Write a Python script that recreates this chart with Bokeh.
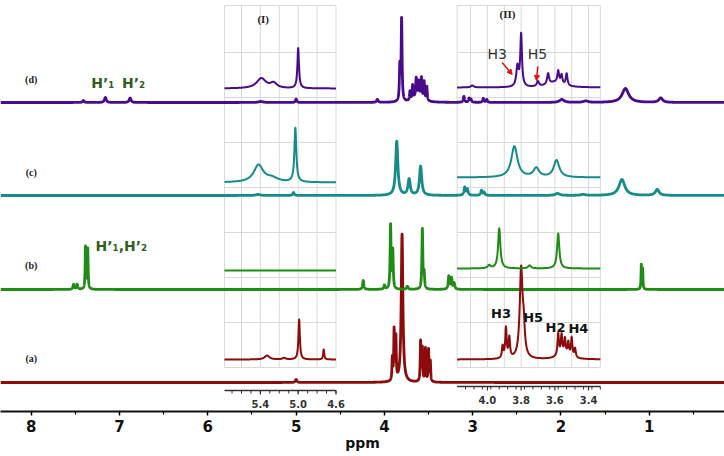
import numpy as np
from bokeh.plotting import figure
from bokeh.models import Range1d, FixedTicker, Arrow, NormalHead
from bokeh.core.properties import value
from bokeh.embed import file_html
from bokeh.resources import INLINE

# ---------------- data ----------------
spectrum_names = ["(a)", "(b)", "(c)", "(d)"]
main_ticks = [1, 2, 3, 4, 5, 6, 7, 8]
main_minor = [0.5, 1.5, 2.5, 3.5, 4.5, 5.5, 6.5, 7.5]
inset1_labels = [5.4, 5.0, 4.6]
inset2_labels = [4.0, 3.8, 3.6, 3.4]

# peak lists: (ppm, intensity, half width in ppm)
peaks_a_main = [(5.00, 3, 0.01), (3.91, 22, 0.005), (3.89, 50, 0.005), (3.87, 42, 0.005),
                (3.80, 148, 0.011), (3.59, 40, 0.005), (3.57, 33, 0.005), (3.535, 33, 0.005),
                (3.50, 32, 0.005), (3.48, 20, 0.005)]
peaks_b_main = [(7.52, 5, 0.008), (7.48, 5, 0.008), (7.385, 42, 0.005), (7.36, 40, 0.005),
                (4.24, 9, 0.008), (4.00, 4, 0.008), (3.93, 64, 0.006), (3.905, 38, 0.006),
                (3.74, 3, 0.01), (3.57, 60, 0.006), (3.55, 15, 0.006), (3.27, 13, 0.008),
                (3.24, 11, 0.008), (3.21, 6, 0.008), (1.09, 24, 0.004), (1.075, 20, 0.004)]
peaks_c_main = [(5.43, 1, 0.03), (5.03, 3, 0.01), (3.86, 54, 0.015), (3.72, 16, 0.015),
                (3.59, 29, 0.015), (3.09, 8, 0.01), (3.06, 6, 0.01), (2.90, 5, 0.01),
                (2.87, 3, 0.01), (2.04, 2, 0.03), (1.75, 1, 0.03), (1.31, 16, 0.04),
                (0.91, 6, 0.025)]
peaks_d_main = [(7.41, 2, 0.01), (7.16, 5, 0.012), (6.88, 4.5, 0.012), (5.40, 1, 0.03),
                (5.00, 3.5, 0.008), (4.08, 3, 0.01), (3.825, 34, 0.006), (3.805, 82, 0.006),
                (3.71, 9, 0.006), (3.68, 14, 0.006), (3.64, 18, 0.006), (3.61, 14, 0.006),
                (3.58, 20, 0.006), (3.55, 18, 0.006), (3.52, 14, 0.006), (3.62, 7, 0.05),
                (3.10, 6, 0.008), (3.04, 4, 0.008), (3.02, 3, 0.008), (2.88, 4, 0.008),
                (2.84, 3, 0.008), (1.99, 3, 0.03), (1.72, 1.5, 0.03), (1.27, 14, 0.045),
                (0.87, 4.5, 0.025)]

# inset (I): 5.78 - 4.60 ppm
peaks_a_i1 = [(5.33, 4, 0.03), (5.15, 1.5, 0.02), (4.99, 40, 0.009), (4.73, 10, 0.007)]
peaks_b_i1 = []
peaks_c_i1 = [(5.42, 17, 0.06), (5.28, 4, 0.08), (5.03, 54, 0.012)]
peaks_d_i1 = [(5.39, 10, 0.06), (5.26, 5, 0.04), (5.00, 40, 0.01)]

# inset (II): 4.18 - 3.33 ppm
peaks_a_i2 = [(3.91, 12, 0.005), (3.89, 30, 0.005), (3.87, 20, 0.005), (3.80, 88, 0.01),
              (3.785, 25, 0.008), (3.58, 22, 0.005), (3.56, 19, 0.005), (3.54, 15, 0.005),
              (3.52, 13, 0.005), (3.50, 19, 0.005), (3.48, 9, 0.005), (3.55, 5, 0.04)]
peaks_b_i2 = [(3.99, 3, 0.01), (3.93, 40, 0.008), (3.75, 3, 0.01), (3.58, 35, 0.008)]
peaks_c_i2 = [(3.84, 31, 0.022), (3.71, 9, 0.02), (3.59, 17, 0.02)]
peaks_d_i2 = [(4.09, 2, 0.01), (3.822, 20, 0.008), (3.80, 52, 0.006), (3.70, 5, 0.008),
              (3.64, 11, 0.007), (3.58, 12, 0.006), (3.56, 9, 0.006), (3.53, 12, 0.006),
              (3.60, 5, 0.05)]

# ---------------- layout / style ----------------
colors = {"a": "#8c0b0b", "b": "#1f8c15", "c": "#158b8b", "d": "#4a0a8c"}
main_offset = {"a": 29, "b": 122, "c": 216, "d": 309}
i1_offset = {"a": 52, "b": 141, "c": 229, "d": 323}
i2_offset = {"a": 52, "b": 143, "c": 234, "d": 324}
main_span = (8.348, 0.148)
i1_span = (5.78, 4.60)
i2_span = (4.18, 3.33)
FRAME_H = 411


def spectrum(x, peaks):
    y = np.zeros_like(x)
    for c, h, w in peaks:
        y += h / (1.0 + ((x - c) / w) ** 2)
    return y


p = figure(frame_width=724, frame_height=FRAME_H,
           x_range=Range1d(*main_span), y_range=Range1d(0, FRAME_H),
           output_backend="svg", toolbar_location=None, y_axis_location=None,
           min_border_left=0, min_border_right=0, min_border_top=0, min_border_bottom=0)
p.extra_x_ranges = {"i1": Range1d(8.150, 0.489), "i2": Range1d(6.890, 2.593)}
p.xgrid.visible = False
p.ygrid.visible = False
p.outline_line_color = None
p.background_fill_color = "white"
p.border_fill_color = "white"

ax = p.xaxis[0]
ax.ticker = FixedTicker(ticks=main_ticks, minor_ticks=main_minor)
ax.axis_label = "ppm"
ax.axis_line_width = 2
ax.axis_line_color = "#111111"
ax.major_tick_in = 0
ax.major_tick_out = 4
ax.minor_tick_in = 0
ax.minor_tick_out = 3
ax.major_tick_line_width = 1.5
ax.minor_tick_line_width = 1.2
ax.major_label_text_font = "DejaVu Sans"
ax.major_label_text_font_style = "bold"
ax.major_label_text_font_size = "15px"
ax.major_label_text_color = "#111111"
ax.major_label_standoff = 4
ax.axis_label_text_font = "DejaVu Sans"
ax.axis_label_text_font_style = "bold"
ax.axis_label_text_font_size = "14px"
ax.axis_label_text_color = "#111111"
ax.axis_label_standoff = 0

# inset grids
grid_y = [359, 314, 269, 224, 179, 134, 89, 44, 406]
grid_col = "#d9d9d9"
for rn, span, vlines in (("i1", i1_span, [5.6, 5.4, 5.2, 5.0, 4.8]),
                          ("i2", i2_span, [4.1, 4.0, 3.9, 3.8, 3.7, 3.6, 3.5, 3.4])):
    xs = [span[0]] + vlines + [span[1]]
    p.segment(x0=xs, x1=xs, y0=[44] * len(xs), y1=[406] * len(xs),
              line_color=grid_col, line_width=1, x_range_name=rn)
    p.segment(x0=[span[0]] * len(grid_y), x1=[span[1]] * len(grid_y), y0=grid_y, y1=grid_y,
              line_color=grid_col, line_width=1, x_range_name=rn)

# main spectra
xm = np.linspace(main_span[0], main_span[1], 9000)
main_peaks = {"a": peaks_a_main, "b": peaks_b_main, "c": peaks_c_main, "d": peaks_d_main}
for k in "abcd":
    p.line(xm, main_offset[k] + spectrum(xm, main_peaks[k]), line_color=colors[k],
           line_width=2.8, line_join="round")

# inset spectra
x1 = np.linspace(i1_span[0], i1_span[1], 2500)
x2 = np.linspace(i2_span[0], i2_span[1], 2500)
i1_peaks = {"a": peaks_a_i1, "b": peaks_b_i1, "c": peaks_c_i1, "d": peaks_d_i1}
i2_peaks = {"a": peaks_a_i2, "b": peaks_b_i2, "c": peaks_c_i2, "d": peaks_d_i2}
for k in "abcd":
    p.line(x1, i1_offset[k] + spectrum(x1, i1_peaks[k]), line_color=colors[k],
           line_width=2, x_range_name="i1", line_join="round")
    p.line(x2, i2_offset[k] + spectrum(x2, i2_peaks[k]), line_color=colors[k],
           line_width=2, x_range_name="i2", line_join="round")

# inset axes
axc = "#333333"
for rn, span, labels, step, yl in (("i1", i1_span, inset1_labels, 0.1, 21),
                                   ("i2", i2_span, inset2_labels, 0.05, 25)):
    p.segment(x0=[span[0]], x1=[span[1]], y0=[yl], y1=[yl], line_color=axc,
              line_width=1.5, x_range_name=rn)
    minor = np.round(np.arange(span[1], span[0], step), 2)
    minor = [m for m in minor if span[1] - 1e-6 <= m <= span[0]]
    p.segment(x0=minor, x1=minor, y0=[yl] * len(minor), y1=[yl - 3] * len(minor),
              line_color=axc, line_width=1, x_range_name=rn)
    p.segment(x0=labels, x1=labels, y0=[yl] * len(labels), y1=[yl - 4] * len(labels),
              line_color=axc, line_width=1.2, x_range_name=rn)
    p.text(x=labels, y=[yl - 13] * len(labels), text=[f"{v:.1f}" for v in labels],
           x_range_name=rn, text_font=value("DejaVu Sans"), text_font_style="bold",
           text_font_size="10px", text_color=axc, text_align="center", text_baseline="middle")

# spectrum names
p.text(x=[8.0] * 4, y=[53, 146, 239, 332], text=spectrum_names,
       text_font=value("Liberation Serif"), text_font_style="bold", text_font_size="10px",
       text_color="#222222", text_align="center", text_baseline="middle")

# inset titles
p.text(x=[5.37], y=[393], text=["(I)"], x_range_name="i1", text_font=value("Liberation Serif"),
       text_font_style="bold", text_font_size="11px", text_color="#222222",
       text_align="center", text_baseline="middle")
p.text(x=[3.881], y=[398], text=["(II)"], x_range_name="i2", text_font=value("Liberation Serif"),
       text_font_style="bold", text_font_size="11px", text_color="#222222",
       text_align="center", text_baseline="middle")

# H' labels
gcol = "#2f5f1f"
p.text(x=[7.19, 6.84], y=[329, 329], text=["H\u2019\u2081", "H\u2019\u2082"],
       text_font=value("DejaVu Sans"), text_font_style="bold", text_font_size="14px",
       text_color=gcol, text_align="center", text_baseline="middle")
p.text(x=[6.98], y=[166], text=["H\u2019\u2081,H\u2019\u2082"],
       text_font=value("DejaVu Sans"), text_font_style="bold", text_font_size="14px",
       text_color=gcol, text_align="center", text_baseline="middle")

# inset (II) proton labels
p.text(x=[3.942, 3.703], y=[358, 358], text=["H3", "H5"], x_range_name="i2",
       text_font=value("DejaVu Sans"), text_font_size="14px", text_color="#333333",
       text_align="center", text_baseline="middle")
p.text(x=[3.919, 3.729, 3.596, 3.46], y=[98, 94, 84, 83], text=["H3", "H5", "H2", "H4"],
       x_range_name="i2", text_font=value("DejaVu Sans"), text_font_style="bold",
       text_font_size="13px", text_color="#111111", text_align="center", text_baseline="middle")

for xs, ys, xe, ye in ((3.913, 349, 3.853, 337), (3.701, 345, 3.709, 331)):
    p.add_layout(Arrow(end=NormalHead(size=5, fill_color="#e01010", line_color="#e01010"),
                       x_start=xs, y_start=ys, x_end=xe, y_end=ye, line_color="#e01010",
                       line_width=1.5, x_range_name="i2"))

open("out.html", "w").write(file_html(p, INLINE))
